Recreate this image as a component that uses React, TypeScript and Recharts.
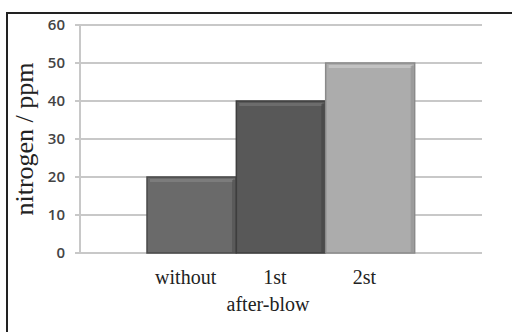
import { Bar, BarChart, CartesianGrid, Cell, XAxis, YAxis } from 'recharts'

const categories = ['without', '1st', '2st']
const nitrogen = [20, 40, 50]
const yTicks = [0, 10, 20, 30, 40, 50, 60]

const barColors = [
  { fill: '#6a6a6a', light: '#7c7c7c', edge: '#4a4a4a' },
  { fill: '#585858', light: '#6c6c6c', edge: '#3e3e3e' },
  { fill: '#acacac', light: '#c2c2c2', edge: '#8a8a8a' }
]

const data = categories.map((name, i) => ({ name, value: nitrogen[i] }))

// bar with a little bevel on top, like the old office 3d look
function BevelBar(props: any) {
  const { x, y, width, height, index } = props
  const c = barColors[index]
  if (!height || height <= 0) return null
  return (
    <g>
      <rect x={x} y={y} width={width} height={height} fill={c.fill} stroke={c.edge} strokeWidth={1.5} />
      <rect x={x + 3} y={y + 2} width={width - 6} height={3} fill={c.light} />
      <rect x={x + width - 4} y={y + 3} width={3} height={height - 4} fill={c.edge} opacity={0.5} />
    </g>
  )
}

export default function App() {
  return (
    <div style={{ position: 'absolute', left: 0, top: 0, width: 512, height: 332, background: '#fff' }}>
      <div style={{ position: 'absolute', left: 6, top: 12, right: 0, bottom: 0, borderLeft: '2px solid #222', borderTop: '2px solid #222' }} />
      <BarChart
        width={512}
        height={332}
        data={data}
        margin={{ top: 25, right: 30, bottom: 49, left: 0 }}
        barCategoryGap={0}
        style={{ position: 'absolute', left: 0, top: 0 }}
      >
        <CartesianGrid vertical={false} stroke="#c8c8c8" strokeWidth={2} />
        <XAxis
          dataKey="name"
          height={30}
          padding={{ left: 67, right: 67 }}
          axisLine={false}
          tickLine={false}
          tick={{ fontFamily: 'Liberation Serif', fontSize: 20, fill: '#222', dx: -6 }}
          tickMargin={11}
          label={{ value: 'after-blow', position: 'insideBottom', offset: -28, fontFamily: 'Liberation Serif', fontSize: 20, fill: '#222', dx: -13 }}
        />
        <YAxis
          domain={[0, 60]}
          ticks={yTicks}
          width={80}
          axisLine={{ stroke: '#c8c8c8', strokeWidth: 2 }}
          tickLine={{ stroke: '#c8c8c8', strokeWidth: 2 }}
          tickSize={5}
          tickMargin={10}
          tick={{ fontFamily: 'Open Sans', fontSize: 15, fill: '#444', fontWeight: 600 }}
          label={{ value: 'nitrogen / ppm', angle: -90, position: 'insideLeft', offset: 24, fontFamily: 'Liberation Serif', fontSize: 26, fill: '#222', style: { textAnchor: 'middle' } }}
        />
        <Bar dataKey="value" isAnimationActive={false} shape={<BevelBar />}>
          {data.map((d, i) => (
            <Cell key={d.name} fill={barColors[i].fill} />
          ))}
        </Bar>
      </BarChart>
    </div>
  )
}
